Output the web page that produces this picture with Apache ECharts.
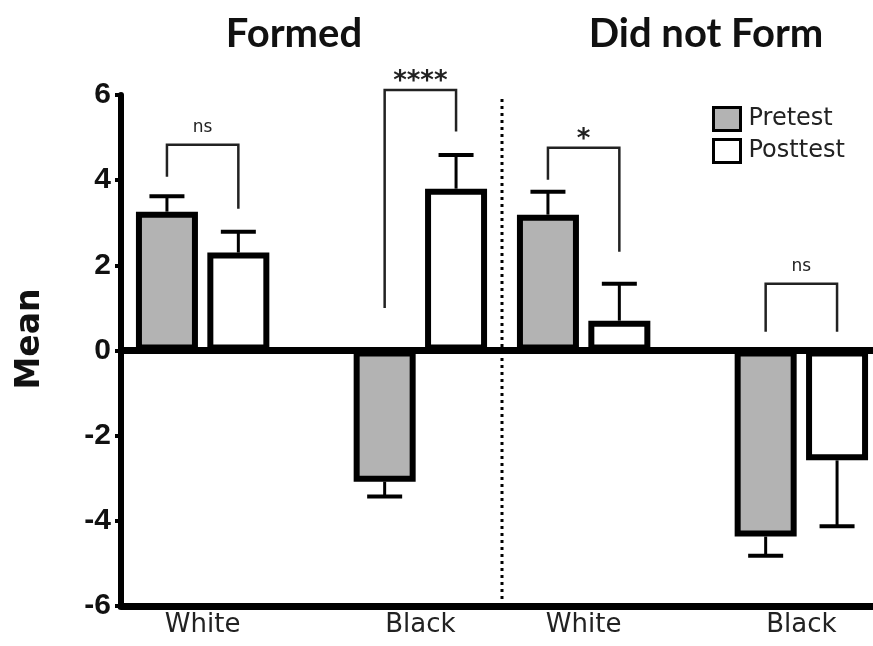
<!DOCTYPE html>
<html><head><meta charset="utf-8">
<script src="https://cdn.jsdelivr.net/npm/echarts@6/dist/echarts.min.js"></script>
<style>html,body{margin:0;padding:0;background:#fff}#c{width:873px;height:646px}</style>
</head><body><div id="c"></div>
<script>
// ---------- data ----------
const categories = ['White', 'Black', 'White', 'Black'];
const panelTitles = ['Formed', 'Did not Form'];
const yAxisTitle = 'Mean';
const seriesNames = ['Pretest', 'Posttest'];
const pretest = [3.26, -3.08, 3.19, -4.37];
const posttest = [2.30, 3.80, 0.70, -2.58];
const pretestErrTip = [3.62, -3.43, 3.73, -4.82];
const posttestErrTip = [2.79, 4.59, 1.57, -4.13];
const bracketTop = [4.83, 6.12, 4.76, 1.57];
const bracketLeftEnd = [4.08, 1.00, 4.01, 0.44];
const bracketRightEnd = [3.33, 5.14, 2.32, 0.44];
const bracketLabels = ['ns', '****', '*', 'ns'];
const yTicks = [-6, -4, -2, 0, 2, 4, 6];

// ---------- layout / style ----------
const SLOT_COUNT = 14;
const groupSlot = [1, 5, 8, 12];
const dividerSlot = 6;
const BAR_W = 62;
const OFF = 35.7;      // half distance between the two bar centres of a group
const BORDER = 6;
const CAP = 35;
const fills = ['#b3b3b3', '#ffffff'];
const labelStyle = {
  ns: { font: '17px "DejaVu Sans"', dy: 17 },
  star: { font: 'bold 26px "DejaVu Sans"', dy: 8 }
};

const slotData = [];
const slotLabel = [];
for (let i = 0; i < SLOT_COUNT; i++) { slotData.push(String(i)); slotLabel.push(''); }
groupSlot.forEach((s, i) => { slotLabel[s] = categories[i]; });

const barData = [pretest, posttest].map(vals => groupSlot.map((s, i) => [s, vals[i]]));
const errData = [];
groupSlot.forEach((s, i) => {
  errData.push([s, pretest[i], pretestErrTip[i], -1]);
  errData.push([s, posttest[i], posttestErrTip[i], 1]);
});
const bracketData = groupSlot.map((s, i) => [s, bracketTop[i], bracketLeftEnd[i], bracketRightEnd[i], i]);

function barRenderer(sign, fill) {
  return function (params, api) {
    const base = api.coord([api.value(0), 0]);
    const top = api.coord([api.value(0), api.value(1)]);
    const cx = base[0] + sign * OFF;
    const y0 = Math.min(base[1], top[1]);
    const h = Math.abs(top[1] - base[1]);
    return {
      type: 'rect',
      shape: { x: cx - BAR_W / 2 + BORDER / 2, y: y0 + BORDER / 2, width: BAR_W - BORDER, height: Math.max(h - BORDER, 0) },
      style: { fill: fill, stroke: '#000', lineWidth: BORDER }
    };
  };
}

const chart = echarts.init(document.getElementById('c'), null, { renderer: 'canvas' });

const option = {
  animation: false,
  backgroundColor: '#fff',
  grid: { left: 121, top: 95, bottom: 40, right: -10, containLabel: false, outerBoundsMode: 'none' },
  legend: {
    data: seriesNames,
    orient: 'vertical',
    left: 712, top: 106,
    padding: 0,
    itemWidth: 27, itemHeight: 23, itemGap: 6,
    icon: 'rect',
    itemStyle: { borderWidth: 3, borderColor: '#000' },
    textStyle: { fontFamily: 'DejaVu Sans', fontSize: 24, color: '#222', padding: [0, 0, 0, 3] }
  },
  xAxis: {
    type: 'category',
    data: slotData,
    position: 'bottom',
    axisLine: { onZero: false, lineStyle: { color: '#000', width: 7 } },
    axisTick: { show: false },
    axisLabel: {
      interval: 0, margin: 6,
      formatter: (v, idx) => slotLabel[idx],
      fontFamily: 'DejaVu Sans', fontSize: 26, color: '#222'
    },
    splitLine: { show: false }
  },
  yAxis: {
    type: 'value', min: yTicks[0], max: yTicks[yTicks.length - 1], interval: yTicks[1] - yTicks[0],
    axisLine: { show: true, onZero: false, lineStyle: { color: '#000', width: 6 } },
    axisTick: { show: true, length: 6, lineStyle: { color: '#000', width: 4 } },
    axisLabel: {
      margin: 10,
      formatter: v => String(v),
      fontFamily: 'Liberation Sans', fontWeight: 'bold', fontSize: 30, color: '#111'
    },
    splitLine: { show: false }
  },
  graphic: [
    { type: 'text', x: 294, y: 34, style: { text: panelTitles[0], font: 'bold 40px Lato', fill: '#111', align: 'center', verticalAlign: 'middle' } },
    { type: 'text', x: 706, y: 34, style: { text: panelTitles[1], font: 'bold 40px Lato', fill: '#111', align: 'center', verticalAlign: 'middle' } },
    { type: 'text', x: 30, y: 339, rotation: Math.PI / 2, style: { text: yAxisTitle, font: 'bold 33px "DejaVu Sans"', fill: '#111', align: 'center', verticalAlign: 'middle' } }
  ],
  series: [
    {
      name: seriesNames[0], type: 'custom', data: barData[0], z: 2, silent: true,
      itemStyle: { color: fills[0], borderColor: '#000', borderWidth: 3 },
      renderItem: barRenderer(-1, fills[0])
    },
    {
      name: seriesNames[1], type: 'custom', data: barData[1], z: 2, silent: true,
      itemStyle: { color: fills[1], borderColor: '#000', borderWidth: 3 },
      renderItem: barRenderer(1, fills[1])
    },
    {
      type: 'custom', silent: true, z: 5,
      data: errData,
      renderItem: function (params, api) {
        const p0 = api.coord([api.value(0), api.value(1)]);
        const p1 = api.coord([api.value(0), api.value(2)]);
        const x = p0[0] + api.value(3) * OFF;
        return {
          type: 'group', children: [
            { type: 'line', shape: { x1: x, y1: p0[1], x2: x, y2: p1[1] }, style: { stroke: '#000', lineWidth: 3 } },
            { type: 'line', shape: { x1: x - CAP / 2, y1: p1[1], x2: x + CAP / 2, y2: p1[1] }, style: { stroke: '#000', lineWidth: 4 } }
          ]
        };
      }
    },
    {
      type: 'custom', silent: true, z: 5,
      data: bracketData,
      renderItem: function (params, api) {
        const c = api.coord([api.value(0), api.value(1)]);
        const yl = api.coord([api.value(0), api.value(2)])[1];
        const yr = api.coord([api.value(0), api.value(3)])[1];
        const xl = c[0] - OFF, xr = c[0] + OFF;
        const lbl = bracketLabels[api.value(4)];
        const st = lbl === 'ns' ? labelStyle.ns : labelStyle.star;
        return {
          type: 'group', children: [
            { type: 'polyline', shape: { points: [[xl, yl], [xl, c[1]], [xr, c[1]], [xr, yr]] }, style: { stroke: '#222', lineWidth: 2.5, fill: null } },
            { type: 'text', x: c[0], y: c[1] - st.dy, style: { text: lbl, font: st.font, fill: '#222', align: 'center', verticalAlign: 'middle' } }
          ]
        };
      }
    },
    {
      type: 'custom', silent: true, z: 4,
      data: [[dividerSlot, yTicks[0], yTicks[yTicks.length - 1]]],
      renderItem: function (params, api) {
        const a = api.coord([api.value(0), api.value(1)]);
        const b = api.coord([api.value(0), api.value(2)]);
        const x = a[0] + api.size([1, 0])[0] / 2;
        const cs = params.coordSys;
        const y0 = api.coord([api.value(0), 0])[1];
        return {
          type: 'group', children: [
            { type: 'line', shape: { x1: x, y1: a[1], x2: x, y2: b[1] }, style: { stroke: '#000', lineWidth: 3, lineDash: [3, 4] } },
            { type: 'line', shape: { x1: cs.x, y1: y0, x2: cs.x + cs.width, y2: y0 }, style: { stroke: '#000', lineWidth: 7 } }
          ]
        };
      }
    }
  ]
};
chart.setOption(option);
</script></body></html>
